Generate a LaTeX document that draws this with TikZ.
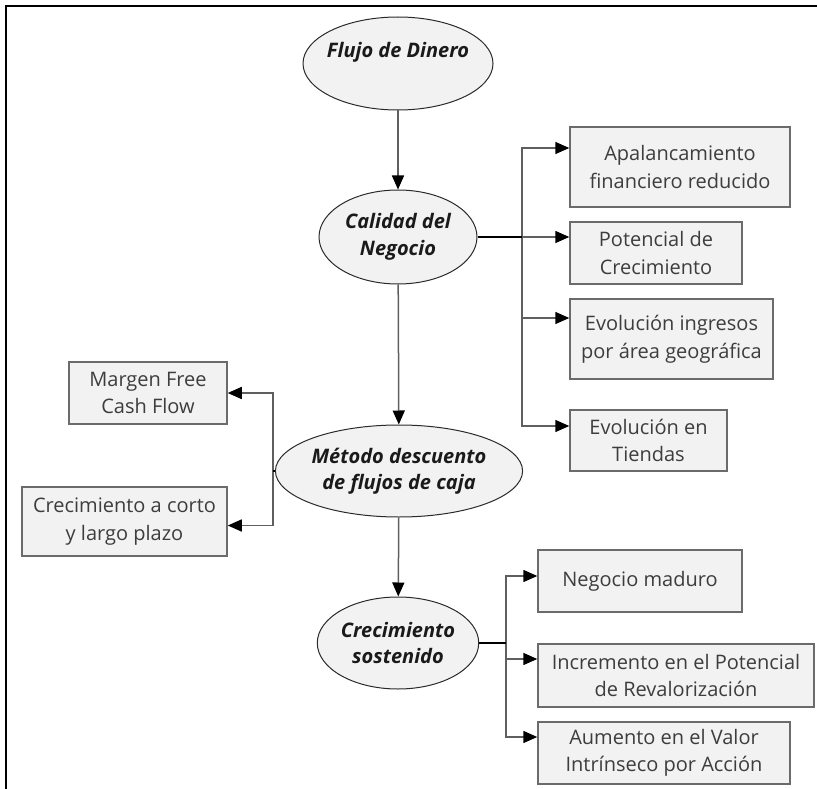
\documentclass[tikz,border=0pt]{standalone}
\usepackage{fontspec}
\setmainfont{Open Sans}
\usetikzlibrary{shapes.geometric,arrows.meta,calc}

\definecolor{boxfill}{HTML}{F2F2F2}
\definecolor{boxline}{HTML}{6B6B6B}
\definecolor{boxtext}{HTML}{3D3D3D}
\definecolor{ovalline}{HTML}{2A2A2A}
\definecolor{ovaltext}{HTML}{1A1A1A}
\definecolor{connline}{HTML}{5F5F5F}

\tikzset{
  topic/.style={ellipse, draw=ovalline, line width=1pt, fill=boxfill, inner sep=0pt,
    align=center, text=ovaltext, font=\fontsize{20}{26.5}\selectfont\bfseries\itshape},
  topictext/.style={align=center, text=ovaltext, inner sep=0pt,
    font=\fontsize{20}{26.5}\selectfont\bfseries\itshape},
  item/.style={rectangle, draw=boxline, line width=1.5pt, fill=boxfill, inner sep=0pt,
    align=center, text=boxtext, font=\fontsize{20}{27.5}\selectfont},
  conn/.style={draw=connline, line width=1.5pt,
    -{Triangle[length=14pt,width=12pt,color=black]}},
  stub/.style={draw=black, line width=1.9pt},
}

\begin{document}
\begin{tikzpicture}[x=1pt,y=-1pt]
  \useasboundingbox (0,0) rectangle (817,789);
  % page frame (top and left edges)
  \draw[line width=2pt] (6,790) -- (6,6) -- (818,6);

  % central chain
  \node[topic, minimum width=190pt, minimum height=93pt] (flujo) at (398,63.5) {};
  \node[topictext] (flujot) at (398,52) {Flujo de Dinero};
  \node[topic, minimum width=158pt, minimum height=94pt] (calidad) at (398,237) {Calidad del\\Negocio};
  \node[topic, minimum width=220pt, minimum height=92pt] (metodo) at (399,471) {Método descuento\\de flujos de caja};
  \node[topic, minimum width=158pt, minimum height=92pt] (crec) at (398,643) {Crecimiento\\sostenido};

  % items of "Calidad del Negocio"
  \node[item, minimum width=220pt, minimum height=80pt] (apal) at (680,167) {Apalancamiento\\financiero reducido};
  \node[item, minimum width=172pt, minimum height=62pt] (pot) at (656,253) {Potencial de\\Crecimiento};
  \node[item, minimum width=203pt, minimum height=80pt] (evo) at (671.5,339) {Evolución ingresos\\por área geográfica};
  \node[item, minimum width=157pt, minimum height=61pt] (tien) at (648.5,440.5) {Evolución en\\Tiendas};

  % items of "Método descuento de flujos de caja"
  \node[item, minimum width=158pt, minimum height=62pt] (marg) at (148,393) {Margen Free\\Cash Flow};
  \node[item, minimum width=205pt, minimum height=69pt] (corto) at (124.5,521.5) {Crecimiento a corto\\y largo plazo};

  % items of "Crecimiento sostenido"
  \node[item, minimum width=204pt, minimum height=62pt] (neg) at (640,581) {Negocio maduro};
  \node[item, minimum width=276pt, minimum height=63pt] (incr) at (676,675.5) {Incremento en el Potencial\\de Revalorización};
  \node[item, minimum width=252pt, minimum height=62pt] (aum) at (664,753) {Aumento en el Valor\\Intrínseco por Acción};

  % branch points
  \coordinate (j1) at (522,237);
  \coordinate (j2) at (273,471);
  \coordinate (j3) at (506,643);

  % vertical flow
  \draw[conn] (flujo) -- (calidad);
  \draw[conn] (calidad) -- (metodo);
  \draw[conn] (metodo) -- (crec);

  % branches of "Calidad del Negocio"
  \draw[conn] (j1) |- ([yshift=19pt]apal.west);
  \draw[conn] (j1) -- (j1 -| pot.west);
  \draw[conn] (j1) |- ([yshift=21pt]evo.west);
  \draw[conn] (j1) |- ([yshift=14.5pt]tien.west);
  \draw[stub] (calidad.east) -- (j1);

  % branches of "Método descuento de flujos de caja"
  \draw[conn] (j2) |- (marg.east);
  \draw[conn] (j2) |- ([yshift=-4pt]corto.east);
  \draw[stub] (metodo.west) -- (j2);

  % branches of "Crecimiento sostenido"
  \draw[conn] (j3) |- ([yshift=5pt]neg.west);
  \draw[conn] (j3) |- ([yshift=16.5pt]incr.west);
  \draw[conn] (j3) |- ([yshift=16pt]aum.west);
  \draw[stub] (crec.east) -- (j3);
\end{tikzpicture}
\end{document}
